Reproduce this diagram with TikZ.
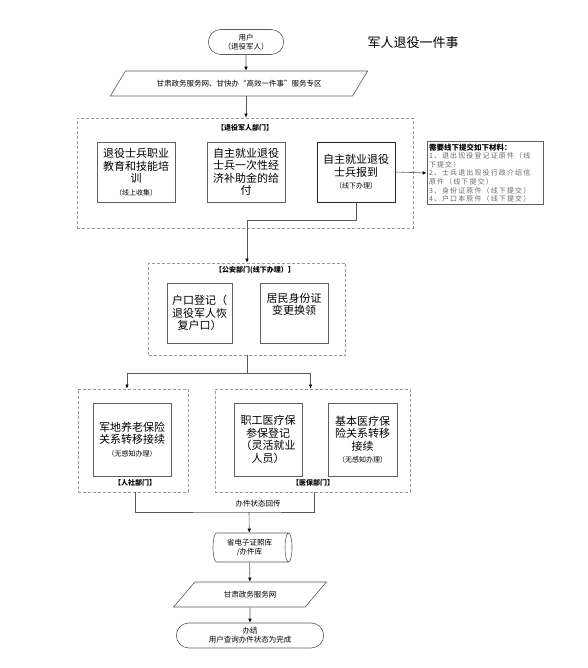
\documentclass[tikz,border=0pt]{standalone}
\usepackage{fontspec}
\setmainfont{Noto Sans CJK SC}
\newfontfamily\matfont[LetterSpace=16]{Noto Sans CJK SC}
\usetikzlibrary{arrows.meta,positioning,calc,shapes.geometric,shapes.misc}
\newcommand\smallnote{\fontsize{7}{8.5}\selectfont}

\begin{document}
\begin{tikzpicture}[x=1pt,y=-1pt,
    line/.style={draw=gray!70!black,line width=0.6pt},
    >={Latex[length=4pt,width=3.5pt,black]},
    terminal/.style={rounded rectangle,draw=gray!70!black,line width=0.6pt,
      minimum height=25pt,align=center,font=\fontsize{7.5}{9}\selectfont},
    portal/.style={trapezium,trapezium left angle=50,trapezium right angle=130,
      trapezium stretches=true,draw=gray!70!black,line width=0.6pt,
      minimum height=25pt,font=\fontsize{7.5}{9}\selectfont},
    dept/.style={draw=gray!80,dash pattern=on 3pt off 2pt,line width=0.7pt},
    deptlabel/.style={font=\bfseries\fontsize{7}{8}\selectfont},
    task/.style={draw=gray!75!black,line width=0.7pt,align=center,inner sep=1pt,
      font=\fontsize{11}{12.5}\selectfont},
    taskdark/.style={task,draw=gray!30!black,line width=0.9pt}]
  \useasboundingbox (0,0) rectangle (587,668);
  \node (title) at (413,43) {\fontsize{13}{15}\selectfont 军人退役一件事};

  % entry
  \node[terminal,minimum width=82pt] (user) at (246,42) {用户\\（退役军人）};
  \node[portal,minimum width=258pt] (portal) at (239,83.5)
    {甘肃政务服务网、甘快办“高效一件事”服务专区};

  % veterans department
  \node[dept,minimum width=336pt,minimum height=110pt] (vetdept) at (245,173) {};
  \node[deptlabel] at (245,128) {【退役军人部门】};
  \foreach \name/\x/\st/\txt in {
      train/136/task/{退役士兵职业\\教育和技能培\\训\\{\smallnote（线上收集）}},
      grant/246/task/{自主就业退役\\士兵一次性经\\济补助金的给\\付},
      report/356/taskdark/{自主就业退役\\士兵报到\\{\smallnote（线下办理）}}} {
    \node[\st,minimum width=78pt,minimum height=60pt] (\name) at (\x,172) {\txt};
  }
  \node[draw=gray!75!black,line width=0.7pt,minimum width=116pt,minimum height=60pt,
    text width=112pt,align=left,inner sep=2pt,text=gray!80!black,
    font=\fontsize{7}{8.6}\selectfont] (mat) at (485,173)
    {{\color{black}\bfseries\fontsize{7.5}{8.6}\selectfont 需要线下提交如下材料：}\\
     \matfont 1、退出现役登记证原件（线\\\matfont 下提交）\\
     \matfont 2、士兵退出现役行政介绍信\\\matfont 原件（线下提交）\\
     \matfont 3、身份证原件（线下提交）\\\matfont 4、户口本原件（线下提交）};

  % police department
  \node[dept,minimum width=197pt,minimum height=92pt] (police) at (247,309) {};
  \node[deptlabel] at (255,270) {【公安部门(线下办理）】};
  \node[task,minimum width=65pt,minimum height=60pt] (hukou) at (199.5,313)
    {户口登记（\\退役军人恢\\复户口）};
  \node[task,minimum width=68pt,minimum height=60pt] (idcard) at (294,313)
    {居民身份证\\变更换领\\[6pt]};

  % social security and medical insurance
  \node[dept,minimum width=110pt,minimum height=103pt] (rs) at (133,440.5) {};
  \node[deptlabel] at (135,483) {【人社部门】};
  \node[task,minimum width=78pt,minimum height=73pt] (pension) at (132,439.5)
    {军地养老保险\\关系转移接续\\{\smallnote（无感知办理）}};
  \node[dept,minimum width=195pt,minimum height=103pt] (yb) at (312.5,440.5) {};
  \node[deptlabel] at (313,483) {【医保部门】};
  \node[task,minimum width=68pt,minimum height=73pt] (staffmed) at (268,439.5)
    {职工医疗保\\参保登记\\（灵活就业\\人员）};
  \node[task,minimum width=69pt,minimum height=73pt] (basemed) at (362.5,439.5)
    {基本医疗保\\险关系转移\\接续\\{\smallnote（无感知办理）}};

  % results
  \node[cylinder,shape border rotate=0,shape aspect=0.3,draw=gray!70!black,
    line width=0.6pt,minimum width=29pt,minimum height=79pt,align=center,
    font=\fontsize{7.5}{9}\selectfont] (db) at (249.5,547.5) {省电子证照库\\/办件库};
  \node[portal,minimum width=154pt] (gsportal) at (250,594.5) {甘肃政务服务网};
  \node[terminal,minimum width=154pt] (done) at (250,635.5) {办结\\用户查询办件状态为完成};

  % connectors
  \draw[line,->] (user) -- (user |- portal.north);
  \draw[line,->] (user |- portal.south) -- (user |- vetdept.north);
  \draw[line,->] (report.east) -- (mat.west);
  \draw[line,->] (report.south) -- ++(0,18) -| (police.north);
  \coordinate (split) at (247,373);
  \draw[line] (police.south) -- (split);
  \draw[line,->] (split) -| ([xshift=-6pt]rs.north);
  \draw[line,->] (split) -| ([xshift=-2pt]yb.north);
  \coordinate (ret) at (249,512);
  \draw[line] ([xshift=2pt]rs.south) |- (ret) -| ([xshift=2pt]yb.south);
  \node[font=\fontsize{7.5}{9}\selectfont] at (258,504) {办件状态回传};
  \draw[line,->] (ret) -- (db);
  \draw[line,->] (db) -- (gsportal);
  \draw[line,->] (gsportal) -- (done);
\end{tikzpicture}
\end{document}
